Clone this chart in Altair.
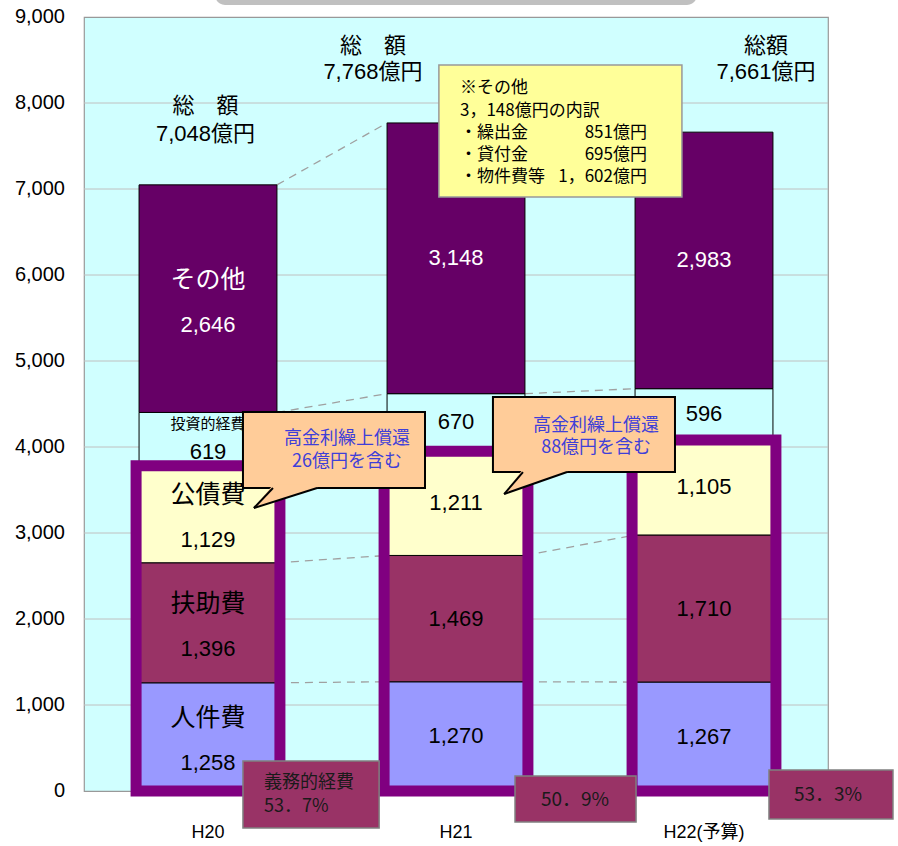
import altair as alt
import pandas as pd

# ---------------- data ----------------
categories = ["H20", "H21", "H22(予算)"]
items = ["人件費", "扶助費", "公債費", "投資的経費", "その他"]
jinken = [1258, 1270, 1267]
fujo = [1396, 1469, 1710]
kosai = [1129, 1211, 1105]
toshi = [619, 670, 596]
sonota = [2646, 3148, 2983]
totals = [7048, 7768, 7661]
total_titles = ["総　額", "総　額", "総額"]
gimu_pct = ["53．7%", "50．9%", "53．3%"]
y_ticks = [0, 1000, 2000, 3000, 4000, 5000, 6000, 7000, 8000, 9000]

sonota_lines = ["※その他", "3，148億円の内訳", "・繰出金", "・貸付金", "・物件費等"]
sonota_amounts = ["", "", "851億円", "695億円", "1，602億円"]
callout_lines = [["高金利繰上償還", "26億円を含む"], ["高金利繰上償還", "88億円を含む"]]

# ---------------- style ----------------
seg_colors = ["#9999FF", "#993366", "#FFFFCC", "#CCFFFF", "#660066"]
FRAME_COLOR = "#800080"
NARROW = "'Liberation Sans Narrow', 'Liberation Sans', 'Noto Sans CJK JP', sans-serif"
JP = "'Noto Sans CJK JP', sans-serif"
SANS = "'Liberation Sans', 'Noto Sans CJK JP', sans-serif"
BAR_HW = 0.278
FRAME_HW = 0.29

xs = alt.Scale(domain=[0, 3], nice=False, zero=False)
ys = alt.Scale(domain=[0, 9000], nice=False, zero=False)


def X(f):
    return alt.X(f, scale=xs, axis=None)


def Y(f):
    return alt.Y(f, scale=ys, axis=None)


# ---------------- tables ----------------
series = [jinken, fujo, kosai, toshi, sonota]
seg_rows, cums = [], []
for i, c in enumerate(categories):
    base = 0
    cum = []
    for k, it in enumerate(items):
        v = series[k][i]
        seg_rows.append(dict(cat=c, idx=i, item=it, v=v, y0=base, y1=base + v,
                             mid=base + v / 2, x0=i + 0.5 - BAR_HW, x1=i + 0.5 + BAR_HW,
                             xc=i + 0.5, label=f"{v:,}",
                             tcol="white" if it == "その他" else "black"))
        base += v
        cum.append(base)
    cums.append(cum)
seg = pd.DataFrame(seg_rows)

conn_rows = []
for i in range(len(categories) - 1):
    for k in range(len(items)):
        conn_rows.append(dict(x0=i + 0.5 + BAR_HW, x1=i + 1.5 - BAR_HW,
                              y0=cums[i][k], y1=cums[i + 1][k]))
conn = pd.DataFrame(conn_rows)

frame = pd.DataFrame([dict(x0=i + 0.5 - FRAME_HW, x1=i + 0.5 + FRAME_HW, y0=0,
                           y1=jinken[i] + fujo[i] + kosai[i]) for i in range(3)])

xlab = pd.DataFrame(dict(x=[i + 0.5 for i in range(len(categories))], t=categories))
ylab = pd.DataFrame(dict(v=y_ticks, t=[f"{v:,}" for v in y_ticks]))
grid = pd.DataFrame(dict(v=y_ticks[1:-1]))

# annotation layout (data units: x in category slots, y in 億円)
tot_x = [0.49, 1.165, 2.75]
tot_y = [(7965, 7640), (8663, 8360), (8663, 8360)]
tot = pd.DataFrame([dict(x=tot_x[i], y=tot_y[i][j], t=[total_titles[i], f"{totals[i]:,}億円"][j])
                    for i in range(3) for j in range(2)])

ybox = pd.DataFrame([dict(x0=1.431, x1=2.411, y0=6907, y1=8442)])
line_y = [8174, 7907, 7651, 7395, 7140]
ytxt = pd.DataFrame([dict(x=1.516, y=line_y[j], t=sonota_lines[j]) for j in range(5)])
yamt = pd.DataFrame([dict(x=2.270, y=line_y[j], t=sonota_amounts[j]) for j in range(5) if sonota_amounts[j]])

cbox = pd.DataFrame([dict(x0=0.641, x1=1.375, y0=3523, y1=4407),
                     dict(x0=1.649, x1=2.383, y0=3709, y1=4581)])
tail = pd.DataFrame([
    dict(cid=0, x=0.685, y=3291, y2=3291), dict(cid=0, x=0.762, y=3560, y2=3361),
    dict(cid=0, x=0.940, y=3560, y2=3523),
    dict(cid=1, x=1.694, y=3453, y2=3453), dict(cid=1, x=1.770, y=3745, y2=3527),
    dict(cid=1, x=1.948, y=3745, y2=3709),
])
tail_edges = pd.DataFrame([
    dict(x0=0.685, y0=3291, x1=0.762, y1=3523), dict(x0=0.685, y0=3291, x1=0.940, y1=3523),
    dict(x0=1.694, y0=3453, x1=1.770, y1=3709), dict(x0=1.694, y0=3453, x1=1.948, y1=3709),
])
ctxt = pd.DataFrame([dict(x=1.060, y=4095, t=callout_lines[0][0]), dict(x=1.060, y=3825, t=callout_lines[0][1]),
                     dict(x=2.065, y=4250, t=callout_lines[1][0]), dict(x=2.065, y=3985, t=callout_lines[1][1])])

pbox = pd.DataFrame([dict(x0=0.641, x1=1.190, y0=-430, y1=349),
                     dict(x0=1.738, x1=2.226, y0=-360, y1=174),
                     dict(x0=2.762, x1=3.262, y0=-326, y1=244)])
ptxt_left = pd.DataFrame([dict(x=0.726, y=93, t="義務的経費"), dict(x=0.726, y=-186, t=gimu_pct[0])])
ptxt_center = pd.DataFrame([dict(x=1.980, y=-105, t=gimu_pct[1]), dict(x=3.0, y=-47, t=gimu_pct[2])])

topshape = pd.DataFrame([dict(x0=0.528, x1=2.472, y0=9140, y1=9400)])


def rect_enc(ch):
    return ch.encode(x=X("x0:Q"), x2="x1:Q", y=Y("y0:Q"), y2="y1:Q")


def text_enc(ch):
    return ch.encode(x=X("x:Q"), y=Y("y:Q"), text="t:N")


# ---------------- layers ----------------
gridl = alt.Chart(grid).mark_rule(color="#C0C0C0", strokeWidth=1).encode(
    y=Y("v:Q"), x=alt.value(0), x2=alt.value(744))

ylab_l = alt.Chart(ylab).mark_text(font=NARROW, fontSize=20, align="right", baseline="middle",
                                   color="#000000").encode(
    y=Y("v:Q"), x=alt.value(-19), text="t:N")
xlab_l = alt.Chart(xlab).mark_text(font=NARROW, fontSize=18, align="center", baseline="middle",
                                   color="#000000").encode(
    x=X("x:Q"), y=alt.value(816), text="t:N")

top = rect_enc(alt.Chart(topshape).mark_rect(fill="#C0C0C0", cornerRadius=10))

connectors = rect_enc(alt.Chart(conn).mark_rule(color="#A0A0A0", strokeWidth=1.3, strokeDash=[8, 6]))

bars = alt.Chart(seg).mark_rect(stroke="#000000", strokeWidth=1).encode(
    x=X("x0:Q"), x2="x1:Q", y=Y("y0:Q"), y2="y1:Q",
    fill=alt.Fill("item:N", scale=alt.Scale(domain=items, range=seg_colors), legend=None),
)

big = (alt.datum.idx == 0) & (alt.datum.item != "投資的経費")
small = (alt.datum.idx == 0) & (alt.datum.item == "投資的経費")


def seg_text(flt, field, font, size, dy):
    return alt.Chart(seg).transform_filter(flt).mark_text(
        font=font, fontSize=size, dy=dy, baseline="middle").encode(
        x=X("xc:Q"), y=Y("mid:Q"), text=f"{field}:N", color=alt.Color("tcol:N", scale=None))


name_h20 = seg_text(big, "item", JP, 25, -19)
num_h20 = seg_text(big, "label", NARROW, 22, 26)
name_small = seg_text(small, "item", JP, 15, -15)
num_small = seg_text(small, "label", NARROW, 22, 13)
num_other = seg_text(alt.datum.idx > 0, "label", NARROW, 22, 0)

frames = rect_enc(alt.Chart(frame).mark_rect(fillOpacity=0, stroke=FRAME_COLOR, strokeWidth=11))

tot_txt = text_enc(alt.Chart(tot).mark_text(font=SANS, fontSize=22, color="#000000", baseline="middle"))

ybox_l = rect_enc(alt.Chart(ybox).mark_rect(fill="#FFFF99", stroke="#999999", strokeWidth=1.5))
ytxt_l = text_enc(alt.Chart(ytxt).mark_text(font=JP, fontSize=17, align="left", baseline="middle", color="#000000"))
yamt_l = text_enc(alt.Chart(yamt).mark_text(font=JP, fontSize=17, align="right", baseline="middle", color="#000000"))

cbox_l = rect_enc(alt.Chart(cbox).mark_rect(fill="#FFCC99", stroke="#000000", strokeWidth=2))
tail_l = alt.Chart(tail).mark_area(fill="#FFCC99", opacity=1).encode(
    x=X("x:Q"), y=alt.Y("y:Q", scale=ys, axis=None, stack=None), y2="y2:Q", detail="cid:N")
tail_e = rect_enc(alt.Chart(tail_edges).mark_rule(color="#000000", strokeWidth=2))
ctxt_l = text_enc(alt.Chart(ctxt).mark_text(font=JP, fontSize=18, color="#3F3FD8", baseline="middle"))

pbox_l = rect_enc(alt.Chart(pbox).mark_rect(fill="#993366", stroke="#808080", strokeWidth=1.5))
ptl = text_enc(alt.Chart(ptxt_left).mark_text(font=JP, fontSize=18, align="left", baseline="middle", color="#1A1A1A"))
ptc = text_enc(alt.Chart(ptxt_center).mark_text(font=JP, fontSize=19, baseline="middle", color="#1A1A1A"))

chart = alt.layer(
    gridl, ylab_l, xlab_l, top, connectors, bars, name_h20, num_h20, name_small, num_small, num_other,
    frames, tot_txt, ybox_l, ytxt_l, yamt_l, cbox_l, tail_l, tail_e, ctxt_l, pbox_l, ptl, ptc,
).properties(
    width=744, height=774,
    autosize=alt.AutoSizeParams(type="none"),
    padding={"left": 84, "top": 17, "right": 70, "bottom": 55},
    background="#FFFFFF",
).configure_view(fill="#D0FFFF", stroke="#999999", strokeWidth=1.2)

chart.save("out.html", embed_options={"renderer": "svg", "actions": False})
